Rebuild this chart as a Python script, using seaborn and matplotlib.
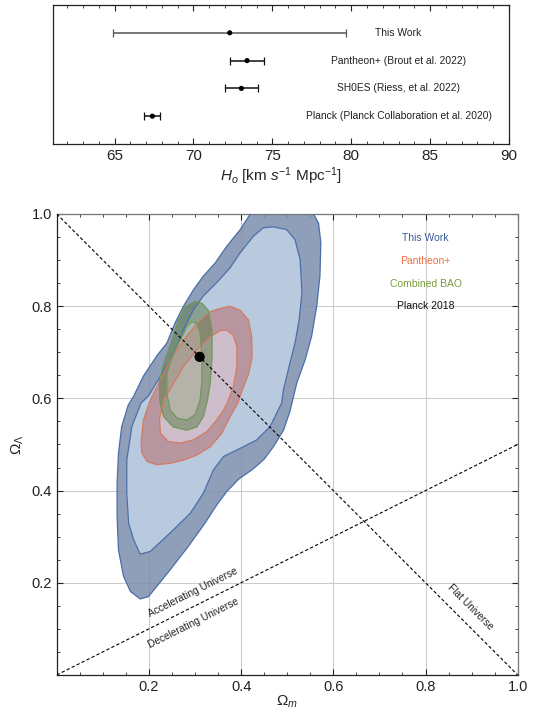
import numpy as np
import pandas as pd
import seaborn as sns
import matplotlib.pyplot as plt
from matplotlib.path import Path
from matplotlib.patches import PathPatch
from matplotlib.ticker import MultipleLocator

########################################################
# Data
########################################################
# top panel: H0 measurements
h0_names = ["This Work", "Pantheon+ (Brout et al. 2022)",
            "SH0ES (Riess, et al. 2022)", "Planck (Planck Collaboration et al. 2020)"]
h0_value = [72.3, 73.4, 73.04, 67.4]
h0_err_lo = [7.4, 1.1, 1.04, 0.5]
h0_err_hi = [7.4, 1.1, 1.04, 0.5]
h0_row = [4, 3, 2, 1]

# bottom panel: contour outlines (Omega_m, Omega_Lambda)
blue_2s_x = [0.445, 0.42, 0.398, 0.369, 0.344, 0.318, 0.297, 0.275, 0.257, 0.239, 0.217,
             0.188, 0.167, 0.155, 0.141, 0.134, 0.131, 0.131, 0.134, 0.145, 0.160, 0.181,
             0.199, 0.217, 0.246, 0.284, 0.320, 0.348, 0.369, 0.395, 0.425, 0.450, 0.470,
             0.492, 0.506, 0.521, 0.539, 0.553, 0.564, 0.571, 0.573, 0.568, 0.557, 0.55]
blue_2s_y = [1.03, 1.0, 0.966, 0.93, 0.894, 0.865, 0.836, 0.80, 0.764, 0.72, 0.692,
             0.648, 0.605, 0.585, 0.539, 0.481, 0.416, 0.344, 0.271, 0.214, 0.181, 0.165,
             0.170, 0.192, 0.228, 0.277, 0.327, 0.370, 0.398, 0.425, 0.446, 0.468, 0.495,
             0.531, 0.572, 0.634, 0.684, 0.735, 0.80, 0.865, 0.937, 0.98, 1.0, 1.03]
blue_1s_x = [0.448, 0.470, 0.499, 0.517, 0.528, 0.532, 0.526, 0.517, 0.506, 0.492, 0.488,
             0.463, 0.434, 0.405, 0.362, 0.340, 0.318, 0.290, 0.246, 0.203, 0.181, 0.167,
             0.156, 0.152, 0.152, 0.163, 0.183, 0.199, 0.225, 0.246, 0.264, 0.275, 0.297,
             0.318, 0.347, 0.376, 0.398, 0.427]
blue_1s_y = [0.970, 0.972, 0.966, 0.944, 0.901, 0.829, 0.771, 0.720, 0.677, 0.619, 0.590,
             0.539, 0.510, 0.495, 0.474, 0.445, 0.394, 0.351, 0.308, 0.268, 0.262, 0.293,
             0.329, 0.394, 0.466, 0.539, 0.590, 0.605, 0.648, 0.684, 0.720, 0.749, 0.793,
             0.822, 0.851, 0.883, 0.916, 0.952]

red_2s_x = [0.355, 0.376, 0.398, 0.416, 0.423, 0.424, 0.416, 0.405, 0.393, 0.376, 0.358,
            0.333, 0.304, 0.275, 0.246, 0.217, 0.196, 0.185, 0.183, 0.188, 0.203, 0.225,
            0.246, 0.275, 0.304, 0.333]
red_2s_y = [0.795, 0.800, 0.791, 0.770, 0.734, 0.690, 0.652, 0.625, 0.590, 0.560, 0.524,
            0.495, 0.477, 0.466, 0.459, 0.456, 0.463, 0.481, 0.503, 0.553, 0.596, 0.640,
            0.683, 0.726, 0.762, 0.788]
red_1s_x = [0.355, 0.369, 0.383, 0.391, 0.391, 0.383, 0.370, 0.362, 0.347, 0.326, 0.297,
            0.268, 0.243, 0.225, 0.223, 0.232, 0.253, 0.275, 0.304, 0.333]
red_1s_y = [0.747, 0.748, 0.737, 0.712, 0.669, 0.625, 0.590, 0.575, 0.553, 0.528, 0.510,
            0.503, 0.506, 0.524, 0.556, 0.596, 0.632, 0.669, 0.705, 0.734]

green_2s_x = [0.300, 0.315, 0.329, 0.337, 0.337, 0.333, 0.327, 0.318, 0.304, 0.282, 0.253,
              0.232, 0.223, 0.223, 0.232, 0.250, 0.264, 0.279]
green_2s_y = [0.810, 0.806, 0.791, 0.748, 0.690, 0.632, 0.596, 0.560, 0.538, 0.531, 0.538,
              0.560, 0.596, 0.640, 0.676, 0.726, 0.770, 0.799]
green_1s_x = [0.293, 0.304, 0.311, 0.315, 0.315, 0.311, 0.300, 0.282, 0.261, 0.246, 0.239,
              0.239, 0.253, 0.272, 0.282]
green_1s_y = [0.766, 0.762, 0.741, 0.690, 0.640, 0.596, 0.564, 0.553, 0.557, 0.575, 0.611,
              0.654, 0.697, 0.734, 0.755]

planck_om = [0.31]
planck_ol = [0.69]

legend_names = ["This Work", "Pantheon+", "Combined BAO", "Planck 2018"]
legend_colors = ["#3c5c9c", "#f07040", "#7c9c3c", "#111111"]

om_line = [0.0, 1.0]
flat_ol = [1.0, 0.0]       # Omega_L = 1 - Omega_m
accel_ol = [0.0, 0.5]      # Omega_L = Omega_m / 2


########################################################
# Helpers
########################################################
def signed_area(p):
    return 0.5 * np.sum(p[:, 0] * np.roll(p[:, 1], -1) - np.roll(p[:, 0], -1) * p[:, 1])


def ring_patch(ox, oy, ix, iy, **kw):
    o = np.column_stack([ox, oy])
    i = np.column_stack([ix, iy])
    if signed_area(o) * signed_area(i) > 0:
        i = i[::-1]
    verts = np.concatenate([o, o[:1], i, i[:1]])
    codes = ([Path.MOVETO] + [Path.LINETO] * (len(o) - 1) + [Path.CLOSEPOLY] +
             [Path.MOVETO] + [Path.LINETO] * (len(i) - 1) + [Path.CLOSEPOLY])
    return PathPatch(Path(verts, codes), **kw)


def draw_contour(ax, ox, oy, ix, iy, ring_color, ring_alpha, in_color, in_alpha, edge):
    ax.add_patch(ring_patch(ox, oy, ix, iy, facecolor=ring_color, alpha=ring_alpha,
                            edgecolor="none", zorder=2))
    ax.fill(ix, iy, color=in_color, alpha=in_alpha, lw=0, zorder=2)
    ax.fill(ox, oy, facecolor="none", edgecolor=edge, lw=0.9, zorder=3)
    ax.fill(ix, iy, facecolor="none", edgecolor=edge, lw=0.9, zorder=3)


def style_ticks(ax):
    ax.tick_params(which="both", direction="in", top=True, right=True, colors="#222222")
    ax.tick_params(which="major", length=4, width=0.8)
    ax.tick_params(which="minor", length=2, width=0.6)


########################################################
# Plot
########################################################
sns.set_style("ticks")
plt.rcParams["font.family"] = ["Liberation Sans", "DejaVu Sans"]
plt.rcParams["mathtext.fontset"] = "custom"
plt.rcParams["mathtext.rm"] = "Liberation Sans"
plt.rcParams["mathtext.it"] = "Liberation Sans:italic"

fig = plt.figure(figsize=(5.33, 7.16), dpi=100)

# ---------------- top panel ----------------
ax1 = fig.add_axes([0.0994, 0.7989, 0.8555, 0.1941])
h0_df = pd.DataFrame({"name": h0_names, "H0": h0_value, "row": h0_row,
                      "lo": h0_err_lo, "hi": h0_err_hi})
for k, r in h0_df.iterrows():
    col = "#555555" if k == 0 else "#111111"
    ax1.errorbar(r["H0"], r["row"], xerr=[[r["lo"]], [r["hi"]]], fmt="none",
                 ecolor=col, elinewidth=1.1, capsize=3, capthick=0.9)
    ax1.text(83.0, r["row"], r["name"], ha="center", va="center", fontsize=7.4, color="#222222")
sns.scatterplot(data=h0_df, x="H0", y="row", ax=ax1, color="black", s=14,
                edgecolor="none", zorder=5)
ax1.set_xlim(61.1, 90)
ax1.set_ylim(0, 5)
ax1.set_yticks([])
ax1.set_ylabel("")
ax1.xaxis.set_major_locator(MultipleLocator(5))
ax1.xaxis.set_minor_locator(MultipleLocator(1))
style_ticks(ax1)
ax1.tick_params(axis="x", labelsize=11)
ax1.set_xlabel(r"$H_o$ [km $s^{-1}$ Mpc$^{-1}$]", fontsize=11, labelpad=2)
for s in ax1.spines.values():
    s.set_color("#222222")
    s.set_linewidth(0.9)

# ---------------- bottom panel ----------------
ax2 = fig.add_axes([0.1064, 0.0573, 0.8649, 0.6439])
ax2.set_xlim(0, 1)
ax2.set_ylim(0, 1)

draw_contour(ax2, blue_2s_x, blue_2s_y, blue_1s_x, blue_1s_y,
             "#7d8ead", 0.85, "#b9c9de", 1.0, "#4a6ea8")
draw_contour(ax2, red_2s_x, red_2s_y, red_1s_x, red_1s_y,
             "#b8504a", 0.42, "#e8b0b5", 0.45, "#d47a62")
draw_contour(ax2, green_2s_x, green_2s_y, green_1s_x, green_1s_y,
             "#5c7a44", 0.5, "#98a880", 0.45, "#6e9a5a")

line_df = pd.DataFrame({"om": om_line, "flat": flat_ol, "accel": accel_ol})
sns.lineplot(data=line_df, x="om", y="flat", ax=ax2, color="black", lw=0.8,
             linestyle=(0, (3, 2)), zorder=4)
sns.lineplot(data=line_df, x="om", y="accel", ax=ax2, color="black", lw=0.8,
             linestyle=(0, (3, 2)), zorder=4)

sns.scatterplot(x=planck_om, y=planck_ol, ax=ax2, color="black", s=55,
                edgecolor="none", zorder=6)

for name, col, yy in zip(legend_names, legend_colors, [0.948, 0.899, 0.849, 0.800]):
    ax2.text(0.80, yy, name, color=col, fontsize=7.5, ha="center", va="center")

ax2.text(0.295, 0.178, "Accelerating Universe", rotation=26.57, fontsize=7.3,
         ha="center", va="center", rotation_mode="anchor", color="#222222")
ax2.text(0.297, 0.113, "Decelerating Universe", rotation=26.57, fontsize=7.3,
         ha="center", va="center", rotation_mode="anchor", color="#222222")
ax2.text(0.898, 0.148, "Flat Universe", rotation=-45, fontsize=7.3,
         ha="center", va="center", rotation_mode="anchor", color="#222222")

ax2.set_xticks([0.2, 0.4, 0.6, 0.8, 1.0])
ax2.set_yticks([0.2, 0.4, 0.6, 0.8, 1.0])
ax2.set_xticklabels(["0.2", "0.4", "0.6", "0.8", "1.0"])
ax2.set_yticklabels(["0.2", "0.4", "0.6", "0.8", "1.0"])
ax2.xaxis.set_minor_locator(MultipleLocator(0.05))
ax2.yaxis.set_minor_locator(MultipleLocator(0.05))
ax2.grid(True, which="major", color="#cccccc", lw=0.8, zorder=0)
ax2.set_axisbelow(True)
style_ticks(ax2)
ax2.tick_params(labelsize=10.5)
ax2.set_xlabel(r"$\Omega_m$", fontsize=11, labelpad=0)
ax2.set_ylabel(r"$\Omega_\Lambda$", fontsize=11, labelpad=4)
for side, s in ax2.spines.items():
    s.set_linewidth(0.9)
    s.set_color("#222222" if side in ("left", "bottom") else "#777777")

fig.savefig("out.png", dpi=100)
